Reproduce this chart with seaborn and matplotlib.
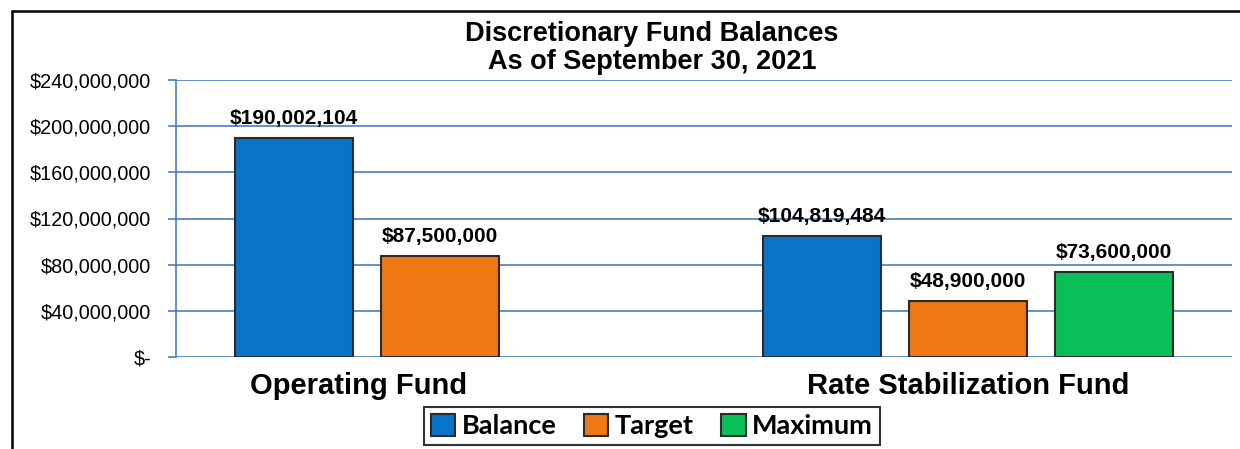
import pandas as pd
import numpy as np
import seaborn as sns
import matplotlib.pyplot as plt
from matplotlib.lines import Line2D
from matplotlib.patches import Patch

funds = ["Operating Fund", "Rate Stabilization Fund"]
series = ["Balance", "Target", "Maximum"]
balance = [190002104, 104819484]
target = [87500000, 48900000]
maximum = [np.nan, 73600000]
yticks = [0, 40e6, 80e6, 120e6, 160e6, 200e6, 240e6]
ytick_labels = ["$-", "$40,000,000", "$80,000,000", "$120,000,000",
                "$160,000,000", "$200,000,000", "$240,000,000"]

df = pd.DataFrame({
    "fund": funds * 3,
    "series": [s for s in series for _ in funds],
    "value": balance + target + maximum,
})

palette = {"Balance": "#0A74C8", "Target": "#F07814", "Maximum": "#0ABF58"}

sns.set_theme(style="white")
plt.rcParams["font.family"] = ["Liberation Sans", "DejaVu Sans"]
plt.rcParams["text.color"] = "black"
plt.rcParams["xtick.color"] = "black"
plt.rcParams["ytick.color"] = "black"

fig = plt.figure(figsize=(12.4, 4.49), dpi=100, facecolor="w")
ax = fig.add_axes([176/1240, 1-357/449, (1232-176)/1240, (357-80)/449])

sns.barplot(data=df, x="fund", y="value", hue="series", hue_order=series,
            order=funds, palette=palette, saturation=1, width=0.83, gap=0.19,
            edgecolor="#2B2B2B", linewidth=1.5, legend=False, ax=ax, zorder=3)

ax.set_ylim(0, 240e6)
ax.set_xlim(-0.5, 1.5)
ax.set_yticks(yticks)
ax.set_yticklabels(ytick_labels, fontsize=14.3)
ax.yaxis.grid(True, color="#4A7EBB", linewidth=1.2, zorder=0)
ax.set_axisbelow(True)
for sp in ["top", "right", "bottom"]:
    ax.spines[sp].set_visible(False)
ax.spines["left"].set_color("#4A7EBB")
ax.spines["left"].set_linewidth(1.2)
ax.tick_params(axis="y", left=True, length=6, width=1.2, color="#4A7EBB",
               labelcolor="black", pad=12)
ax.set_xlabel("")
ax.set_ylabel("")

# value labels
for cont in ax.containers:
    labels = ["" if np.isnan(v) else f"${v:,.0f}" for v in cont.datavalues]
    ax.bar_label(cont, labels=labels, padding=7, fontsize=15, fontweight="bold",
                 color="black")

# category labels centred under the drawn bars
centers = {0: [], 1: []}
for cont in ax.containers:
    for p, v in zip(cont.patches, cont.datavalues):
        if not np.isnan(v) and p.get_height() > 0:
            c = p.get_x() + p.get_width()/2
            centers[int(round(c))].append(c)
ax.set_xticks([np.mean(centers[0]) - 0.015, np.mean(centers[1])])
ax.set_xticklabels(funds, fontsize=21, fontweight="bold", color="black")
ax.tick_params(axis="x", length=0, pad=11)

fig.text(652/1240, 1-48/449, "Discretionary Fund Balances\nAs of September 30, 2021",
         ha="center", va="center", fontsize=19.5, fontweight="bold", linespacing=1.1,
         color="black")

handles = [Patch(facecolor=palette[s], edgecolor="#2B2B2B", linewidth=1.5) for s in series]
leg = fig.legend(handles, series, loc="center", bbox_to_anchor=(652/1240, 1-426/449),
                 ncol=3, frameon=True, fancybox=False, handlelength=0.9, handleheight=0.9,
                 handletextpad=0.25, columnspacing=1.0, borderpad=0.25,
                 prop={"family": "Lato", "weight": "bold", "size": 19.5})
leg.get_frame().set_edgecolor("black")
leg.get_frame().set_linewidth(1.5)
for t in leg.get_texts():
    t.set_color("black")

# outer frame (top and left edges visible)
fig.add_artist(Line2D([12/1240, 12/1240], [0, 1-11/449], color="black", linewidth=1.8))
fig.add_artist(Line2D([12/1240, 1], [1-11/449, 1-11/449], color="black", linewidth=1.8))

fig.savefig("out.png", dpi=100, facecolor="w")
